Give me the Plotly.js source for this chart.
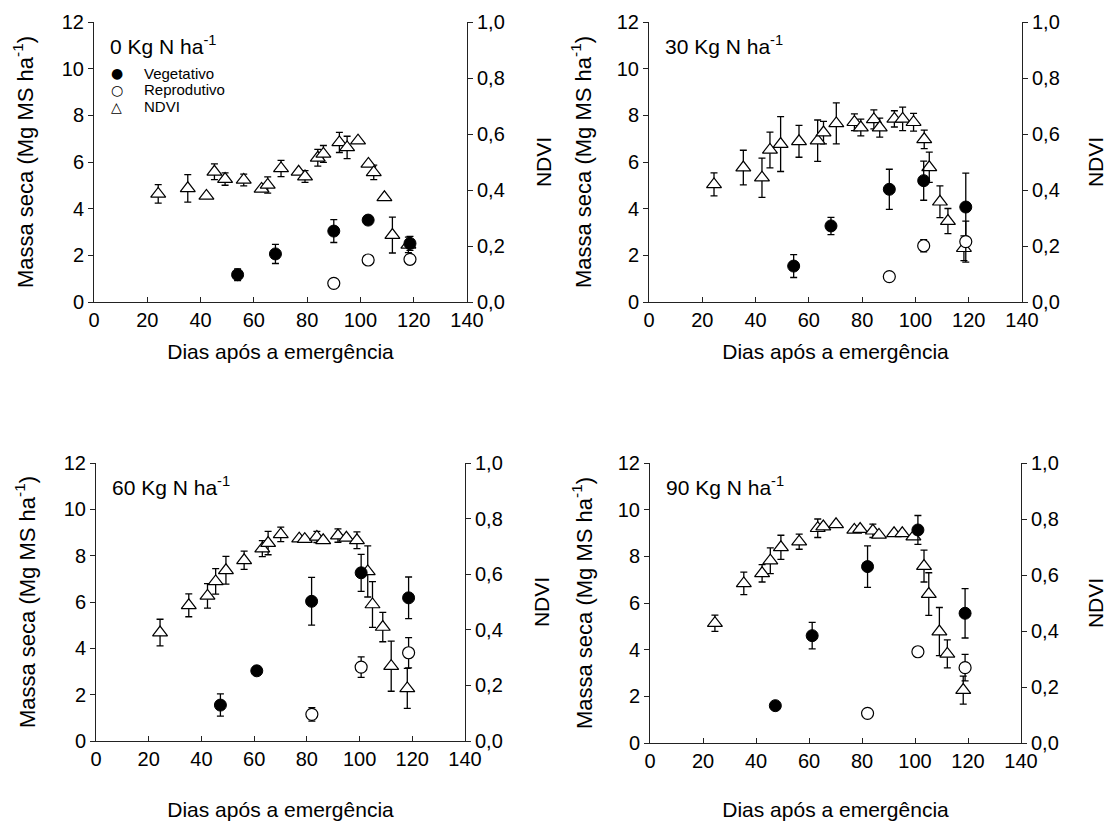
<!DOCTYPE html>
<html>
<head>
<meta charset="utf-8">
<script src="https://cdn.plot.ly/plotly-3.0.1.min.js"></script>
<style>html,body{margin:0;padding:0;background:#fff;}#chart{width:1107px;height:827px;}</style>
</head>
<body>
<div id="chart"></div>
<script>
// ---------- DATA ----------
const panelLabels = ["0 Kg N ha<sup>-1</sup>", "30 Kg N ha<sup>-1</sup>", "60 Kg N ha<sup>-1</sup>", "90 Kg N ha<sup>-1</sup>"];
const seriesNames = ["Vegetativo", "Reprodutivo", "NDVI"];
const xTitle = "Dias após a emergência";
const yTitle = "Massa seca (Mg MS ha<sup>-1</sup>)";
const y2Title = "NDVI";

// 0 Kg N
const ndvi0Dias = [24.1, 35.2, 42.2, 45.2, 49.2, 56.2, 62.9, 65.2, 70.2, 76.8, 79.2, 84.0, 86.1, 92.1, 95.0, 99.1, 103.0, 105.0, 109.0, 112.0, 118.0];
const ndvi0Val  = [0.386, 0.406, 0.379, 0.465, 0.439, 0.436, 0.404, 0.418, 0.477, 0.465, 0.448, 0.515, 0.529, 0.570, 0.552, 0.576, 0.493, 0.463, 0.374, 0.239, 0.204];
const ndvi0Err  = [0.033, 0.049, 0.0, 0.028, 0.022, 0.021, 0.0, 0.029, 0.029, 0.0, 0.021, 0.030, 0.030, 0.036, 0.040, 0.0, 0.0, 0.026, 0.0, 0.064, 0.028];
const veg0Dias = [53.9, 68.1, 90.0, 102.9, 118.6];
const veg0Val  = [1.17, 2.06, 3.04, 3.51, 2.51];
const veg0Err  = [0.25, 0.41, 0.49, 0.15, 0.30];
const rep0Dias = [90.0, 102.9, 118.6];
const rep0Val  = [0.80, 1.80, 1.83];
const rep0Err  = [0.0, 0.0, 0.0];

// 30 Kg N
const ndvi30Dias = [24.4, 35.4, 42.4, 45.4, 49.4, 56.3, 63.3, 65.5, 70.3, 77.1, 79.5, 84.4, 86.6, 92.1, 95.2, 99.3, 103.3, 105.2, 109.2, 112.2, 118.2];
const ndvi30Val  = [0.420, 0.480, 0.444, 0.543, 0.564, 0.574, 0.576, 0.605, 0.638, 0.642, 0.623, 0.652, 0.623, 0.654, 0.654, 0.642, 0.581, 0.481, 0.358, 0.289, 0.192];
const ndvi30Err  = [0.041, 0.062, 0.070, 0.064, 0.098, 0.057, 0.074, 0.040, 0.073, 0.030, 0.030, 0.034, 0.034, 0.029, 0.042, 0.032, 0.033, 0.054, 0.057, 0.045, 0.044];
const veg30Dias = [54.3, 68.3, 90.2, 103.1, 118.9];
const veg30Val  = [1.54, 3.26, 4.83, 5.20, 4.07];
const veg30Err  = [0.49, 0.37, 0.86, 0.84, 1.45];
const rep30Dias = [90.2, 103.1, 118.9];
const rep30Val  = [1.09, 2.41, 2.59];
const rep30Err  = [0.0, 0.26, 0.88];

// 60 Kg N
const ndvi60Dias = [24.3, 35.2, 42.3, 45.4, 49.3, 56.2, 63.1, 65.3, 70.1, 77.1, 79.2, 83.8, 86.2, 91.8, 95.0, 99.0, 103.1, 104.9, 108.8, 112.0, 118.1];
const ndvi60Val  = [0.390, 0.488, 0.522, 0.574, 0.614, 0.650, 0.692, 0.712, 0.743, 0.728, 0.726, 0.734, 0.722, 0.739, 0.731, 0.722, 0.610, 0.491, 0.410, 0.269, 0.189];
const ndvi60Err  = [0.048, 0.041, 0.044, 0.046, 0.050, 0.033, 0.029, 0.042, 0.026, 0.0, 0.0, 0.020, 0.0, 0.024, 0.0, 0.030, 0.092, 0.082, 0.053, 0.090, 0.072];
const veg60Dias = [47.2, 61.0, 81.8, 100.6, 118.6];
const veg60Val  = [1.55, 3.03, 6.03, 7.26, 6.18];
const veg60Err  = [0.48, 0.15, 1.03, 0.80, 0.90];
const rep60Dias = [81.9, 100.6, 118.6];
const rep60Val  = [1.15, 3.19, 3.81];
const rep60Err  = [0.29, 0.44, 0.65];

// 90 Kg N
const ndvi90Dias = [24.5, 35.4, 42.3, 45.4, 49.4, 56.3, 63.3, 65.4, 70.2, 77.1, 79.3, 84.1, 86.4, 92.1, 95.2, 99.4, 103.4, 105.2, 109.2, 112.2, 118.2];
const ndvi90Val  = [0.428, 0.570, 0.606, 0.651, 0.699, 0.719, 0.767, 0.773, 0.781, 0.761, 0.764, 0.758, 0.743, 0.749, 0.749, 0.737, 0.632, 0.532, 0.398, 0.318, 0.189];
const ndvi90Err  = [0.029, 0.040, 0.031, 0.046, 0.043, 0.027, 0.033, 0.0, 0.0, 0.0, 0.0, 0.024, 0.0, 0.0, 0.0, 0.0, 0.057, 0.076, 0.086, 0.050, 0.050];
const veg90Dias = [47.3, 61.2, 82.1, 101.1, 118.9];
const veg90Val  = [1.60, 4.60, 7.56, 9.13, 5.56];
const veg90Err  = [0.15, 0.57, 0.89, 0.62, 1.06];
const rep90Dias = [82.1, 101.1, 118.9];
const rep90Val  = [1.27, 3.91, 3.23];
const rep90Err  = [0.0, 0.15, 0.57];

const xTickVals = [0, 20, 40, 60, 80, 100, 120, 140];
const yTickVals = [0, 2, 4, 6, 8, 10, 12];
const y2TickVals = [0, 0.2, 0.4, 0.6, 0.8, 1.0];

// ---------- LAYOUT HELPERS ----------
const W = 1107, H = 827;
const px = v => v / W;
const py = v => 1 - v / H;
const FONT = "Liberation Sans, Arial, sans-serif";

const panels = [
  {nd: [ndvi0Dias, ndvi0Val, ndvi0Err], veg: [veg0Dias, veg0Val, veg0Err], rep: [rep0Dias, rep0Val, rep0Err],
   xd: [94, 467], yd: [302, 22], xStand: 14, yStand: 22, y2Stand: 32},
  {nd: [ndvi30Dias, ndvi30Val, ndvi30Err], veg: [veg30Dias, veg30Val, veg30Err], rep: [rep30Dias, rep30Val, rep30Err],
   xd: [649, 1022], yd: [302, 22], xStand: 14, yStand: 19, y2Stand: 31},
  {nd: [ndvi60Dias, ndvi60Val, ndvi60Err], veg: [veg60Dias, veg60Val, veg60Err], rep: [rep60Dias, rep60Val, rep60Err],
   xd: [96, 465], yd: [741, 463], xStand: 33, yStand: 22, y2Stand: 32},
  {nd: [ndvi90Dias, ndvi90Val, ndvi90Err], veg: [veg90Dias, veg90Val, veg90Err], rep: [rep90Dias, rep90Val, rep90Err],
   xd: [650, 1021], yd: [743, 463], xStand: 31, yStand: 19, y2Stand: 31}
];

const traces = [];
const layout = {
  width: W, height: H,
  margin: {l: 0, r: 0, t: 0, b: 0},
  paper_bgcolor: "#fff", plot_bgcolor: "rgba(0,0,0,0)",
  showlegend: false,
  separators: ",.",
  font: {family: FONT, color: "#000", size: 20},
  annotations: [], shapes: []
};

const errStyle = {thickness: 1.3, width: 3.5, color: "#000"};
const axisCommon = {
  tickmode: "array", ticklen: 5, tickwidth: 1, tickcolor: "#222",
  showline: true, linecolor: "#222", linewidth: 1, showgrid: false, zeroline: false,
  automargin: false, tickfont: {size: 20, family: FONT, color: "#000"}
};

panels.forEach((p, i) => {
  const n = i + 1;
  const xa = "x" + (n === 1 ? "" : n);
  const yNd = "y" + (2 * n - 1 === 1 ? "" : (2 * n - 1));
  const yMs = "y" + (2 * n);
  const xKey = "xaxis" + (n === 1 ? "" : n);
  const yNdKey = "yaxis" + (2 * n - 1 === 1 ? "" : (2 * n - 1));
  const yMsKey = "yaxis" + (2 * n);

  layout[xKey] = Object.assign({}, axisCommon, {
    domain: [px(p.xd[0]), px(p.xd[1])], anchor: yNd, range: [0, 140],
    tickvals: xTickVals, ticks: "inside",
    title: {text: xTitle, standoff: p.xStand, font: {size: 21, family: FONT, color: "#000"}}
  });
  layout[yNdKey] = Object.assign({}, axisCommon, {
    domain: [py(p.yd[0]), py(p.yd[1])], anchor: xa, side: "right", range: [0, 1],
    tickvals: y2TickVals, tickformat: ".1f", ticks: "outside",
    title: {text: y2Title, standoff: p.y2Stand, font: {size: 21, family: FONT, color: "#000"}}
  });
  layout[yMsKey] = Object.assign({}, axisCommon, {
    overlaying: yNd, anchor: xa, side: "left", range: [0, 12],
    tickvals: yTickVals, ticks: "outside",
    title: {text: yTitle, standoff: p.yStand, font: {size: 22, family: FONT, color: "#000"}}
  });

  traces.push({
    type: "scatter", mode: "markers", name: seriesNames[2], xaxis: xa, yaxis: yNd,
    x: p.nd[0], y: p.nd[1], error_y: Object.assign({type: "data", array: p.nd[2], visible: true}, errStyle),
    marker: {symbol: "triangle-up", size: 13, color: "#fff", line: {color: "#000", width: 1.2}},
    cliponaxis: false
  });
  traces.push({
    type: "scatter", mode: "markers", name: seriesNames[0], xaxis: xa, yaxis: yMs,
    x: p.veg[0], y: p.veg[1], error_y: Object.assign({type: "data", array: p.veg[2], visible: true}, errStyle),
    marker: {symbol: "circle", size: 12, color: "#000", line: {color: "#000", width: 1}},
    cliponaxis: false
  });
  traces.push({
    type: "scatter", mode: "markers", name: seriesNames[1], xaxis: xa, yaxis: yMs,
    x: p.rep[0], y: p.rep[1], error_y: Object.assign({type: "data", array: p.rep[2], visible: true}, errStyle),
    marker: {symbol: "circle", size: 12, color: "#fff", line: {color: "#000", width: 1.2}},
    cliponaxis: false
  });

  // panel label
  layout.annotations.push({xref: "paper", yref: "paper", x: px(p.xd[0] + 14), y: py(p.yd[1] + 23),
    xanchor: "left", yanchor: "middle", text: panelLabels[i], showarrow: false,
    font: {size: 21, family: FONT, color: "#000"}});
});

// legend (panel 1)
const legendSymbols = ["\u25CF", "\u25CB", "\u25B3"];
const legendRows = [73.3, 90, 106.7];
seriesNames.forEach((nm, k) => {
  layout.annotations.push({xref: "paper", yref: "paper", x: px(116.7), y: py(legendRows[k]),
    xanchor: "center", yanchor: "middle", text: legendSymbols[k], showarrow: false,
    font: {size: 14, family: "DejaVu Sans", color: "#000"}});
  layout.annotations.push({xref: "paper", yref: "paper", x: px(142), y: py(legendRows[k]),
    xanchor: "left", yanchor: "middle", text: nm, showarrow: false,
    font: {size: 15, family: FONT, color: "#000"}});
});

Plotly.newPlot("chart", traces, layout, {staticPlot: true, displayModeBar: false});
</script>
</body>
</html>
